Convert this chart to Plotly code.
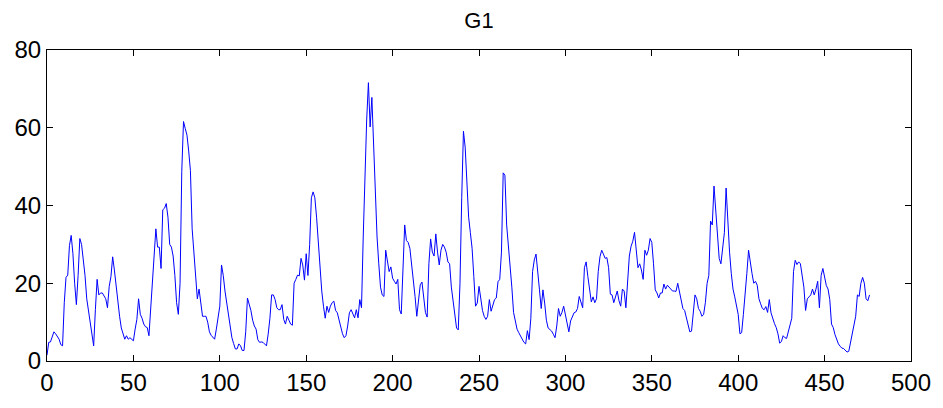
import plotly.graph_objects as go

# Signal values (one sample per index 0..476)
values = [
    1.5, 4.8, 4.9, 6.0, 7.5, 7.0, 6.2, 5.6, 4.2, 3.9,
    15, 21.5, 22.1, 29.7, 32.3, 27.6, 20, 14.5, 22, 31.5,
    30, 26, 22, 16, 13, 10.3, 6.5, 3.9, 13.2, 21.0,
    17, 17.5, 17.5, 16.8, 16, 13.7, 19.2, 21.7, 26.8, 23.4,
    19, 15.5, 11.5, 8.5, 7, 5.6, 6.5, 5.6, 6.0, 5.5,
    5.2, 8.2, 10.7, 16.0, 12, 11, 9.5, 8.8, 8.6, 6.5,
    14.1, 20.0, 26.8, 34.0, 29.3, 29.3, 23.8, 38.9, 39.3, 40.5,
    37, 30, 29.3, 27, 22, 15, 12, 20, 48.8, 61.6,
    59.8, 58.1, 54, 49, 34, 28, 21, 16, 18.5, 14.9,
    11.5, 11.5, 11.5, 10, 7.5, 6.6, 6.2, 5.6, 8.2, 11.5,
    14.1, 24.7, 22, 18, 15, 12.4, 9, 6, 4.5, 3.1,
    3.1, 4.4, 3.9, 2.7, 2.7, 7.5, 16.2, 14.5, 13, 10.5,
    9, 8.2, 5.5, 4.8, 4.9, 4.8, 4.4, 3.9, 6.9, 11,
    17.0, 17, 15.8, 13.7, 13.2, 13.2, 14.5, 10.7, 9.5, 11.5,
    10.5, 9.5, 9.2, 20.0, 21, 22.1, 21.9, 26.4, 24.7, 20.8,
    27.6, 22, 30, 42, 43.5, 42, 37, 30, 25, 18,
    14.1, 11, 14.1, 12.5, 14.1, 15.0, 15.4, 13, 12.4, 10.5,
    8.2, 7, 6.0, 6.5, 9, 12.4, 13.2, 12, 11.1, 13.2,
    11.1, 15.8, 13.7, 31.9, 48, 62, 71.6, 60.2, 67.8, 55,
    45, 31.9, 25, 19, 17.0, 16.6, 28.5, 25, 23, 24.2,
    21.3, 20.5, 19.8, 21.0, 13.2, 12.1, 25, 35, 31, 30.5,
    29, 25.1, 21.7, 16.6, 11.5, 15, 19.6, 20.3, 17, 12.5,
    11.3, 25, 31.4, 28, 27, 32.7, 28, 24.7, 28.5, 30,
    29.3, 28, 25.5, 25, 19, 15, 11, 8.5, 8.0, 20,
    42, 59.1, 55, 45, 37, 33, 29, 21.7, 14.1, 14.9,
    19.2, 16.2, 13, 11.5, 10.7, 11.5, 15.8, 12.8, 14.7, 15.8,
    16.2, 20.4, 21, 28, 48.4, 47.8, 35, 30, 25, 19,
    12.5, 10, 8.2, 7.3, 6.5, 5.6, 4.8, 4.4, 7.8, 5.5,
    11, 23, 26, 27.5, 22, 18.3, 13.5, 18.3, 14.9, 10.5,
    8.5, 8.2, 7.7, 6.9, 6.0, 9, 13.5, 11.5, 12.5, 14.1,
    12, 9.5, 7.5, 10.3, 11.5, 12.4, 12.6, 13.5, 16.6, 15,
    13.7, 24, 25.5, 21.7, 17.9, 15.2, 16.5, 15, 16, 23,
    26.8, 28.5, 27.5, 26.4, 26.6, 24, 17.2, 17, 15, 16.6,
    18, 15.5, 14.1, 18.5, 18, 13.7, 22, 27, 29.5, 30.8,
    33.1, 29.3, 24, 25, 23.4, 21, 28.5, 27.2, 28.5, 31.5,
    30.5, 25, 18.3, 17.5, 16.2, 17.5, 17.5, 19.8, 18.5, 19.5,
    19, 18.7, 18, 18, 17.9, 20, 18, 15.8, 13.5, 13,
    11.1, 9, 7.5, 7.7, 12, 17, 16, 13.5, 12.8, 11.5,
    12, 15, 20, 22, 36, 35, 45, 39, 31, 26.4,
    25, 30, 33, 44.5, 34, 28, 22.5, 18.5, 16.5, 14.5,
    12, 7, 7.3, 12, 16.5, 22.5, 28.5, 25, 22.5, 20,
    20.5, 19.5, 16, 14.7, 13.5, 13.2, 14, 12.5, 15.8, 12.4,
    10.8, 9.6, 8.6, 7, 4.6, 5, 6.5, 6, 5.8, 7.5,
    9.0, 11, 23, 25.9, 24.8, 25.5, 25, 22.5, 19, 13,
    16, 16.5, 17, 18.5, 17, 18.5, 20.5, 13.7, 22, 23.8,
    21.7, 19.4, 18.5, 15.8, 9.5, 8.6, 6.8, 5.5, 4.4, 3.8,
    3.3, 3.2, 2.7, 2.3, 2.5, 4.8, 7.2, 9.2, 11.5, 17,
    16.6, 20, 21.5, 20, 16, 15.5, 17.0,
]
index = list(range(len(values)))

x_ticks = [0, 50, 100, 150, 200, 250, 300, 350, 400, 450, 500]
y_ticks = [0, 20, 40, 60, 80]
title_text = "G1"

font_family = "Liberation Sans, Arial, sans-serif"

fig = go.Figure(
    go.Scatter(
        x=index,
        y=values,
        mode="lines",
        line=dict(color="#0000FF", width=1),
        showlegend=False,
    )
)

axis_common = dict(
    showline=True,
    linecolor="black",
    linewidth=1,
    mirror="ticks",
    ticks="inside",
    ticklen=6,
    tickwidth=1,
    tickcolor="black",
    showgrid=False,
    zeroline=False,
    tickfont=dict(family=font_family, size=24, color="black"),
)

fig.update_layout(
    width=943,
    height=408,
    margin=dict(l=47, r=28, t=50, b=42),
    paper_bgcolor="white",
    plot_bgcolor="white",
    title=dict(
        text=title_text,
        x=0.5,
        xref="paper",
        xanchor="center",
        y=0.95,
        yref="container",
        yanchor="middle",
        font=dict(family=font_family, size=22, color="black"),
    ),
    xaxis=dict(range=[0, 500], tickvals=x_ticks, ticktext=[str(v) for v in x_ticks], **axis_common),
    yaxis=dict(range=[0, 80], tickvals=y_ticks, ticktext=[str(v) for v in y_ticks], **axis_common),
)

fig.write_html("out.html")
